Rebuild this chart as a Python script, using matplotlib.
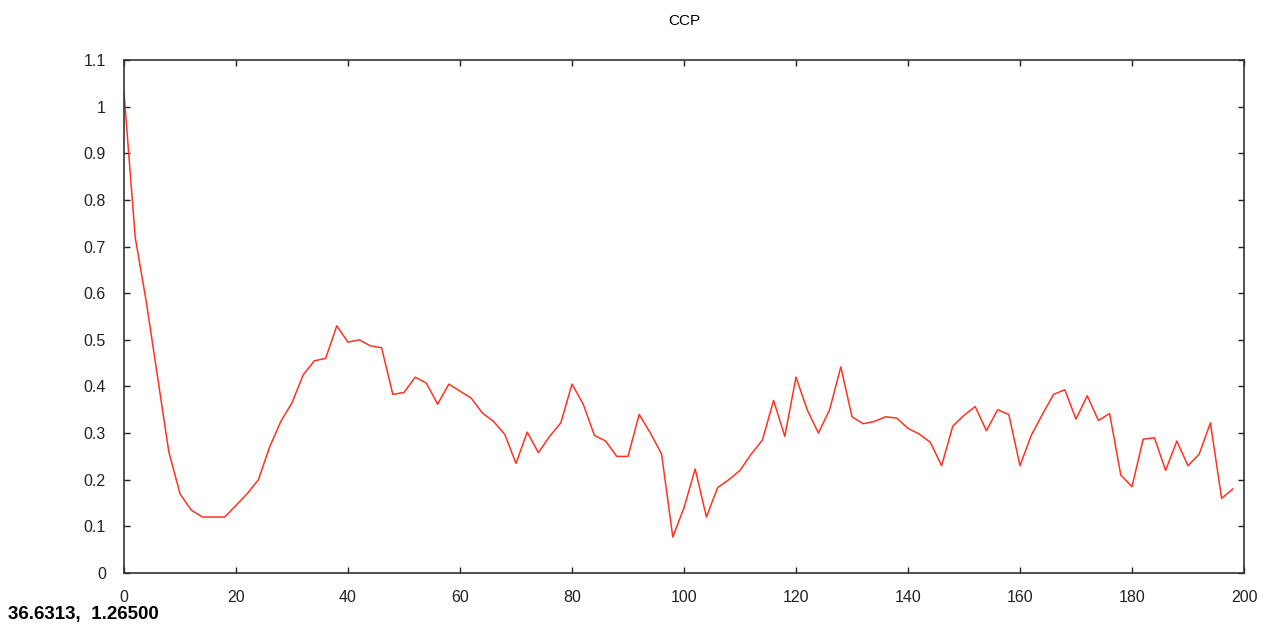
import numpy as np
import matplotlib
matplotlib.use("Agg")
import matplotlib.pyplot as plt

# CCP values, sampled every 2 steps
steps = list(range(0, 200, 2))
ccp = [1.03, 0.72, 0.58, 0.42, 0.26, 0.17, 0.135, 0.12, 0.12, 0.12,
       0.145, 0.17, 0.20, 0.27, 0.325, 0.365, 0.425, 0.455, 0.46, 0.53,
       0.495, 0.50, 0.487, 0.483, 0.383, 0.387, 0.42, 0.407, 0.362, 0.405,
       0.39, 0.375, 0.343, 0.325, 0.297, 0.235, 0.302, 0.258, 0.293, 0.322,
       0.405, 0.362, 0.295, 0.283, 0.25, 0.25, 0.34, 0.30, 0.255, 0.077,
       0.14, 0.223, 0.12, 0.183, 0.20, 0.22, 0.255, 0.285, 0.37, 0.293,
       0.42, 0.35, 0.30, 0.35, 0.442, 0.335, 0.32, 0.325, 0.335, 0.332,
       0.31, 0.298, 0.28, 0.23, 0.315, 0.338, 0.357, 0.305, 0.35, 0.34,
       0.23, 0.295, 0.34, 0.383, 0.393, 0.33, 0.38, 0.327, 0.342, 0.21,
       0.185, 0.287, 0.29, 0.22, 0.283, 0.23, 0.255, 0.322, 0.16, 0.18]

xticks = list(range(0, 201, 20))
yticks = [0, 0.1, 0.2, 0.3, 0.4, 0.5, 0.6, 0.7, 0.8, 0.9, 1, 1.1]
ytick_labels = ["0", "0.1", "0.2", "0.3", "0.4", "0.5", "0.6", "0.7", "0.8", "0.9", "1", "1.1"]
cursor_text = "36.6313,  1.26500"

plt.rcParams['font.family'] = ['Liberation Sans', 'DejaVu Sans']

fig = plt.figure(figsize=(12.71, 6.29), dpi=100)
ax = fig.add_axes([124 / 1271, 1 - 573 / 629, 1120 / 1271, 513 / 629])

ax.plot(steps, ccp, color='#ff3322', linewidth=1.1)

ax.set_xlim(0, 200)
ax.set_ylim(0, 1.1)
ax.set_xticks(xticks)
ax.set_yticks(yticks)
ax.set_yticklabels(ytick_labels)
ax.tick_params(direction='in', top=True, right=True, length=4, width=1,
               labelsize=11.5, colors='#222222')
ax.tick_params(axis='x', pad=12)
ax.tick_params(axis='y', pad=13)
for s in ax.spines.values():
    s.set_color('#333333')
    s.set_linewidth(1.2)

ax.set_title("CCP", fontsize=11, pad=25)

fig.text(8 / 1271, 1 - 615 / 629, cursor_text, fontsize=13.5,
         fontweight='bold', va='center')

fig.savefig("out.png", dpi=100)
plt.close()
